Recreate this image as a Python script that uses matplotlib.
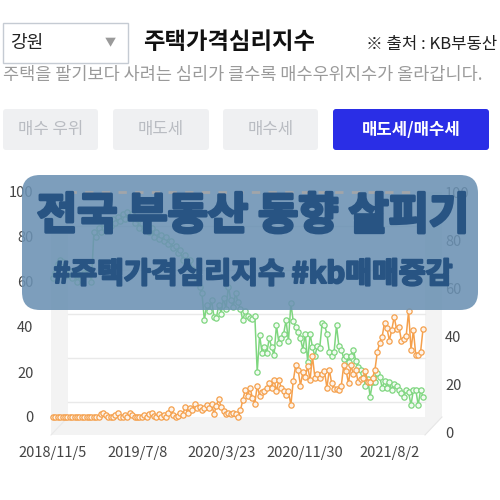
import numpy as np
import pandas as pd
import matplotlib
matplotlib.use("Agg")
import matplotlib.pyplot as plt
import matplotlib.patheffects as pe
from matplotlib.patches import FancyBboxPatch, Rectangle, Polygon

plt.rcParams['font.family'] = ['Noto Sans CJK KR', 'DejaVu Sans']

W, H = 500, 500

# KB weekly survey dates (holiday weeks are skipped)
skip_weeks = ['2019-09-16', '2020-01-27', '2020-10-05', '2021-09-20']
all_weeks = pd.date_range('2018-11-05', periods=160, freq='7D')
weeks = [d for d in all_weeks if d.strftime('%Y-%m-%d') not in skip_weeks][:155]

# 매도세 (green)
sell = [62, 64, 68, 70, 69, 66, 63, 65, 62, 64, 60, 63, 61, 64, 66, 65, 60, 82, 80, 84,
        82, 86, 83, 87, 85, 88, 86, 89, 87, 90, 88, 91, 89, 90, 86, 88, 84, 86, 83, 85,
        82, 84, 80, 82, 79, 81, 78, 80, 77, 78, 75, 76, 73, 74, 70, 72, 68, 70, 66, 64,
        61, 58, 55, 43, 50, 47, 52, 44.5, 44, 50, 46, 53, 48, 58, 52, 49, 55, 51, 48, 43,
        47, 45, 44, 43.5, 45, 20, 36.5, 28.5, 31, 28.5, 35, 31, 27.5, 40.8, 33, 35, 37, 43, 33.6, 50.5,
        42.5, 40, 38, 35, 30, 37, 24.6, 37, 31, 27, 31.5, 30.5, 41.6, 41, 37, 29, 27, 29, 40.7, 31.5,
        30, 26, 27, 24.6, 27, 30, 25, 22.4, 21, 19.5, 14, 17, 9, 15.5, 15.5, 19.5, 17.8, 13, 16, 13,
        15.5, 12, 14.5, 14, 12, 10.5, 9, 12, 11, 5.3, 12, 12, 5.3, 12, 9]

# 매수세 (orange)
buy = [0, 0, 0, 0, 0, 0, 0, 0, 0, 0, 0, 0, 0, 0, 0, 0, 0, 0, 0, 0,
       1.5, 2, 1, 0, 0, 0, 1, 2, 0, 0, 1, 0, 2, 1, 0, 0, 0, 0, 1, 0,
       1.5, 2, 0.5, 0, 1.5, 0, 1, 0, 2, 3.5, 1, 0, 0.5, 2, 1, 4.5, 2, 4, 3, 6,
       4, 4.3, 3, 4, 5.3, 4, 6, 1.3, 5, 8, 4.3, 2.5, 1.3, 2, 1.5, 1.6, 1.5, 0, 3, 7.5,
       12, 9.3, 13, 8.5, 6, 14, 9.3, 11, 11.5, 13, 15, 13, 16.5, 11.5, 16.5, 13, 11.5, 10, 11.5, 5.3,
       16, 23, 21, 14, 20, 18, 22.5, 16.5, 27, 17.5, 19, 17.5, 19, 20.5, 13, 21, 15, 12.5, 12.5, 12,
       14, 23, 20.5, 15, 23, 19, 21, 15.5, 17, 17.5, 20.5, 15.5, 15.5, 17.5, 21, 29, 33, 35.7, 42, 39.5,
       34, 38.7, 44.5, 39, 40, 34, 34.5, 36, 47, 30, 38.5, 27.5, 27.5, 29, 39]

label_idx = [0, 35, 70, 105, 140]
x_labels = [f"{weeks[i].year}/{weeks[i].month}/{weeks[i].day}" for i in label_idx]
y_ticks = [0, 20, 40, 60, 80, 100]

buttons = ['매수 우위', '매도세', '매수세', '매도세/매수세']

fig = plt.figure(figsize=(5, 5), dpi=100)


def px_box(x0, y0, x1, y1):
    # pixel box (top-left origin) -> figure fraction rect
    return [x0 / W, 1 - y1 / H, (x1 - x0) / W, (y1 - y0) / H]


# background: page UI + 3d chart box
bg = fig.add_axes([0, 0, 1, 1])
bg.set_xlim(0, W)
bg.set_ylim(H, 0)
bg.axis('off')

bg.add_patch(Rectangle((3, 23), 125, 40, fc='white', ec='#c5cbd3', lw=1))
bg.text(10, 43, '강원', fontsize=13, color='#222222', va='center')
bg.text(110, 43, '▼', fontsize=8, color='#9a9a9a', va='center', ha='center')
bg.text(143, 42, '주택가격심리지수', fontsize=16.8, fontweight='bold', color='#111111', va='center')
bg.text(497, 45, '※ 출처 : KB부동산', fontsize=12, color='#222222', va='center', ha='right')
bg.text(3, 75, '주택을 팔기보다 사려는 심리가 클수록 매수우위지수가 올라갑니다.',
        fontsize=12.6, color='#9a9a9a', va='center')

btn_x = [(3, 98), (113, 209), (223, 318), (333, 489)]
for (bx0, bx1), name in zip(btn_x, buttons):
    active = name == '매도세/매수세'
    bg.add_patch(FancyBboxPatch((bx0, 109), bx1 - bx0, 41, boxstyle='round,pad=0,rounding_size=3',
                                fc='#2a2ee6' if active else '#eff0f2', ec='none'))
    bg.text((bx0 + bx1) / 2, 129.5, name, fontsize=12, ha='center', va='center',
            color='white' if active else '#b9bcc2', fontweight='bold' if active else 'normal')

# 3d box walls
bg.add_patch(Polygon([(51, 435), (425, 435), (442, 417), (442, 192), (68, 192), (51, 209)],
                     closed=True, fc='#f3f3f3', ec='none'))
bg.add_patch(Rectangle((68, 192), 357, 225, fc='white', ec='none'))
bg.plot([51, 68], [435, 417], color='#e9e9e9', lw=0.8)
bg.plot([425, 442], [435, 417], color='#e6e6e6', lw=0.8)
for gy in [402, 358, 314, 270, 226]:
    bg.plot([68, 425], [gy, gy], color='#e9e9e9', lw=1)

# main chart (left axis)
ax = fig.add_axes(px_box(53, 192, 423, 417))
ax.patch.set_alpha(0)
x = np.arange(len(weeks))
ax.plot(x, sell, color='#7ed67f', lw=1.1, marker='o', ms=3.8, mfc='#f2fbf2', mec='#7ed67f',
        mew=0.9, clip_on=False, zorder=3)
ax.plot(x, buy, color='#f5a04c', lw=1.1, marker='o', ms=3.8, mfc='#fdf3ea', mec='#f5a04c',
        mew=0.9, clip_on=False, zorder=4)
ax.set_xlim(0, len(weeks) - 1)
ax.set_ylim(0, 100)
ax.set_yticks(y_ticks)
ax.set_xticks(label_idx)
ax.set_xticklabels(x_labels)
ax.tick_params(axis='y', length=0, pad=14, labelsize=10.5, labelcolor='#444444')
ax.tick_params(axis='x', length=0, pad=21, labelsize=10.5, labelcolor='#444444')
for s in ax.spines.values():
    s.set_visible(False)

# right axis (front face of the 3d box)
ax2 = fig.add_axes(px_box(53, 192, 423, 433))
ax2.patch.set_alpha(0)
ax2.set_ylim(0, 100)
ax2.set_yticks(y_ticks)
ax2.set_xticks([])
ax2.yaxis.tick_right()
ax2.tick_params(axis='y', length=0, pad=16, labelsize=10.5, labelcolor='#444444')
for s in ax2.spines.values():
    s.set_visible(False)

# overlay banner
ov = fig.add_axes([0, 0, 1, 1])
ov.set_xlim(0, W)
ov.set_ylim(H, 0)
ov.axis('off')
ov.patch.set_alpha(0)
ov.add_patch(FancyBboxPatch((22, 175), 456, 135, boxstyle='round,pad=0,rounding_size=18',
                            fc=(0.42, 0.57, 0.70), alpha=0.88, ec='none'))
ov.plot([68, 422], [192, 192], color='#a2a5a9', lw=2, ls=(0, (3, 3)))
thick = [pe.withStroke(linewidth=2.2, foreground='#285483')]
ov.text(253, 216, '전국 부동산 동향 살피기', fontsize=31.5, fontweight='heavy',
        color='#285483', ha='center', va='center', path_effects=thick)
ov.text(253, 274, '#주택가격심리지수 #kb매매증감', fontsize=21, fontweight='heavy',
        color='#285483', ha='center', va='center',
        path_effects=[pe.withStroke(linewidth=1.5, foreground='#285483')])

fig.savefig('out.png', dpi=100)
